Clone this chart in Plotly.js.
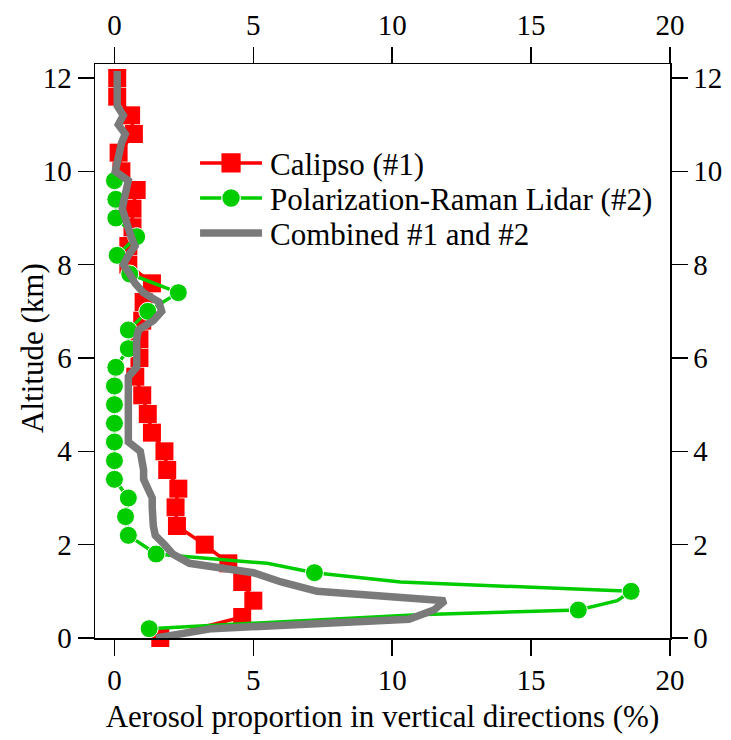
<!DOCTYPE html>
<html><head><meta charset="utf-8">
<script src="https://cdn.plot.ly/plotly-3.0.1.min.js"></script>
<style>html,body{margin:0;padding:0;background:#fff}</style>
</head><body><div id="chart" style="width:731px;height:740px"></div>
<script>
// Calipso (#1)
const calipsoAlt = [0.0,0.45,0.8,1.2,1.6,2.0,2.4,2.8,3.2,3.6,4.0,4.4,4.8,5.2,5.6,6.0,6.4,6.8,7.2,7.6,8.0,8.4,8.8,9.2,9.6,10.0,10.4,10.8,11.2,11.6,12.0];
const calipsoVal = [1.65,4.6,5.0,4.6,4.1,3.25,2.25,2.2,2.3,1.9,1.8,1.35,1.2,1.0,0.75,0.9,0.9,1.0,1.05,1.35,0.5,0.5,0.65,0.65,0.8,0.25,0.15,0.7,0.6,0.1,0.1];
// Polarization-Raman Lidar (#2): measured points (markers)
const lidarPointAlt = [0.2,0.6,1.0,1.4,1.8,2.2,2.6,3.0,3.4,3.8,4.2,4.6,5.0,5.4,5.8,6.2,6.6,7.0,7.4,7.8,8.2,8.6,9.0,9.4,9.8];
const lidarPointVal = [1.25,16.7,18.6,7.2,1.5,0.5,0.4,0.5,0.0,0.0,0.0,0.0,0.0,0.0,0.05,0.5,0.5,1.2,2.3,0.55,0.1,0.8,0.05,0.05,0.0];
// additional vertices of the lidar profile line (no marker)
const lidarBendAlt = [0.5,0.8,1.2,1.6];
const lidarBendVal = [10.9,18.1,10.3,5.5];
// Combined #1 and #2
const combinedAlt = [0.0,0.2,0.4,0.6,0.8,1.0,1.2,1.4,1.6,1.8,2.0,2.2,2.4,2.6,2.8,3.0,3.2,3.4,3.6,3.8,4.0,4.2,4.4,4.6,4.8,5.0,5.2,5.4,5.6,5.8,6.0,6.2,6.4,6.6,6.8,7.0,7.2,7.4,7.6,7.8,8.0,8.2,8.4,8.6,8.8,9.0,9.2,9.4,9.6,9.8,10.0,10.2,10.4,10.6,10.8,11.0,11.2,11.4,11.6,11.8,12.0,12.15];
const combinedVal = [1.5,3.5,10.6,11.5,11.9,7.3,6.0,5.0,2.7,2.1,1.8,1.47,1.4,1.36,1.36,1.36,1.2,1.05,1.05,1.0,0.93,0.5,0.5,0.5,0.5,0.45,0.45,0.45,0.5,0.8,0.8,0.74,0.8,0.86,1.4,1.7,1.6,1.04,0.74,0.55,0.32,0.5,0.74,0.6,0.5,0.4,0.28,0.35,0.45,0.5,0.03,0.1,0.14,0.25,0.39,0.14,0.32,0.1,0.1,0.1,0.1,0.1];
const seriesNames = ['Calipso (#1)','Polarization-Raman Lidar (#2)','Combined #1 and #2'];
const xTicks = [0,5,10,15,20];
const yTicks = [0,2,4,6,8,10,12];
const xTitle = 'Aerosol proportion in vertical directions (%)';
const yTitle = 'Altitude (km)';

// merge lidar points and bends into one line ordered by altitude
const lidarAll = lidarPointAlt.map((a,i)=>({a:a,v:lidarPointVal[i],m:true}))
  .concat(lidarBendAlt.map((a,i)=>({a:a,v:lidarBendVal[i],m:false})))
  .sort((p,q)=>p.a-q.a);

const FONT = 'Liberation Serif, Times New Roman, serif';
const XR = [-0.7, 20];
const YR = [0, 12.3];

const traces = [
  {x: calipsoVal, y: calipsoAlt, name: seriesNames[0], type:'scatter', mode:'lines+markers',
   line:{color:'#ff0000', width:3.5}, marker:{symbol:'square', size:18, color:'#ff0000', opacity:1}, cliponaxis:false},
  {x: lidarAll.map(p=>p.v), y: lidarAll.map(p=>p.a), name: seriesNames[1], type:'scatter', mode:'lines+markers',
   line:{color:'#00cc00', width:3.5}, marker:{symbol:'circle', size: lidarAll.map(p=>p.m?18:0), color:'#00cc00', opacity:1}, cliponaxis:false},
  {x: combinedVal, y: combinedAlt, name: seriesNames[2], type:'scatter', mode:'lines',
   line:{color:'#7a7a7a', width:7.5}},
  {x: XR, y: YR, xaxis:'x2', yaxis:'y2', mode:'none', type:'scatter', showlegend:false, hoverinfo:'skip'}
];

const axCommon = {
  showgrid:false, zeroline:false, showline:true, linecolor:'#000', linewidth:1.5,
  ticks:'outside', ticklen:16, tickwidth:1.5, tickcolor:'#000',
  tickfont:{family:FONT, size:29, color:'#000'}
};

const layout = {
  width:731, height:740,
  margin:{l:95, r:61, t:64, b:102},
  paper_bgcolor:'#fff', plot_bgcolor:'#fff',
  font:{family:FONT, color:'#000'},
  showlegend:true,
  legend:{x:0.174, y:0.874, xanchor:'left', yanchor:'top', bgcolor:'rgba(0,0,0,0)',
    font:{family:FONT, size:31, color:'#000'}, itemwidth:65, tracegroupgap:0},
  xaxis: Object.assign({}, axCommon, {range:XR, tickvals:xTicks, ticktext:xTicks.map(String),
    title:{text:xTitle, font:{family:FONT, size:31, color:'#000'}, standoff:10}}),
  yaxis: Object.assign({}, axCommon, {range:YR, tickvals:yTicks, ticktext:yTicks.map(String)}),
  xaxis2: Object.assign({}, axCommon, {range:XR, tickvals:xTicks, ticktext:xTicks.map(String), overlaying:'x', side:'top', anchor:'y2'}),
  yaxis2: Object.assign({}, axCommon, {range:YR, tickvals:yTicks, ticktext:yTicks.map(String), overlaying:'y', side:'right', anchor:'x2'}),
  annotations:[{text:yTitle, xref:'paper', yref:'paper', x:-0.110, y:0.505, xanchor:'center', yanchor:'middle',
    textangle:-90, showarrow:false, font:{family:FONT, size:31, color:'#000'}}]
};

Plotly.newPlot('chart', traces, layout, {staticPlot:true, displayModeBar:false}).then(function(gd){
  // legend symbol styling: longer sample line, centred marker, tighter row spacing
  const items = gd.querySelectorAll('.legend .traces');
  let y0 = null;
  items.forEach(function(item, i){
    const t = item.getAttribute('transform') || '';
    const m = /translate\(\s*([-\d.]+)[ ,]+([-\d.]+)\s*\)/.exec(t);
    if(m){
      const x = parseFloat(m[1]), y = parseFloat(m[2]);
      if(y0 === null) y0 = y;
      item.setAttribute('transform', 'translate(' + x + ',' + (y0 + i*35) + ')');
    }
    item.querySelectorAll('.legendlines path').forEach(function(p){ p.setAttribute('d','M5,0h62'); });
    item.querySelectorAll('.legendpoints path').forEach(function(p){
      p.setAttribute('transform','translate(36,0) scale(' + (i===1 ? 1.2 : 1.2) + ')');
    });
  });
});
</script></body></html>
